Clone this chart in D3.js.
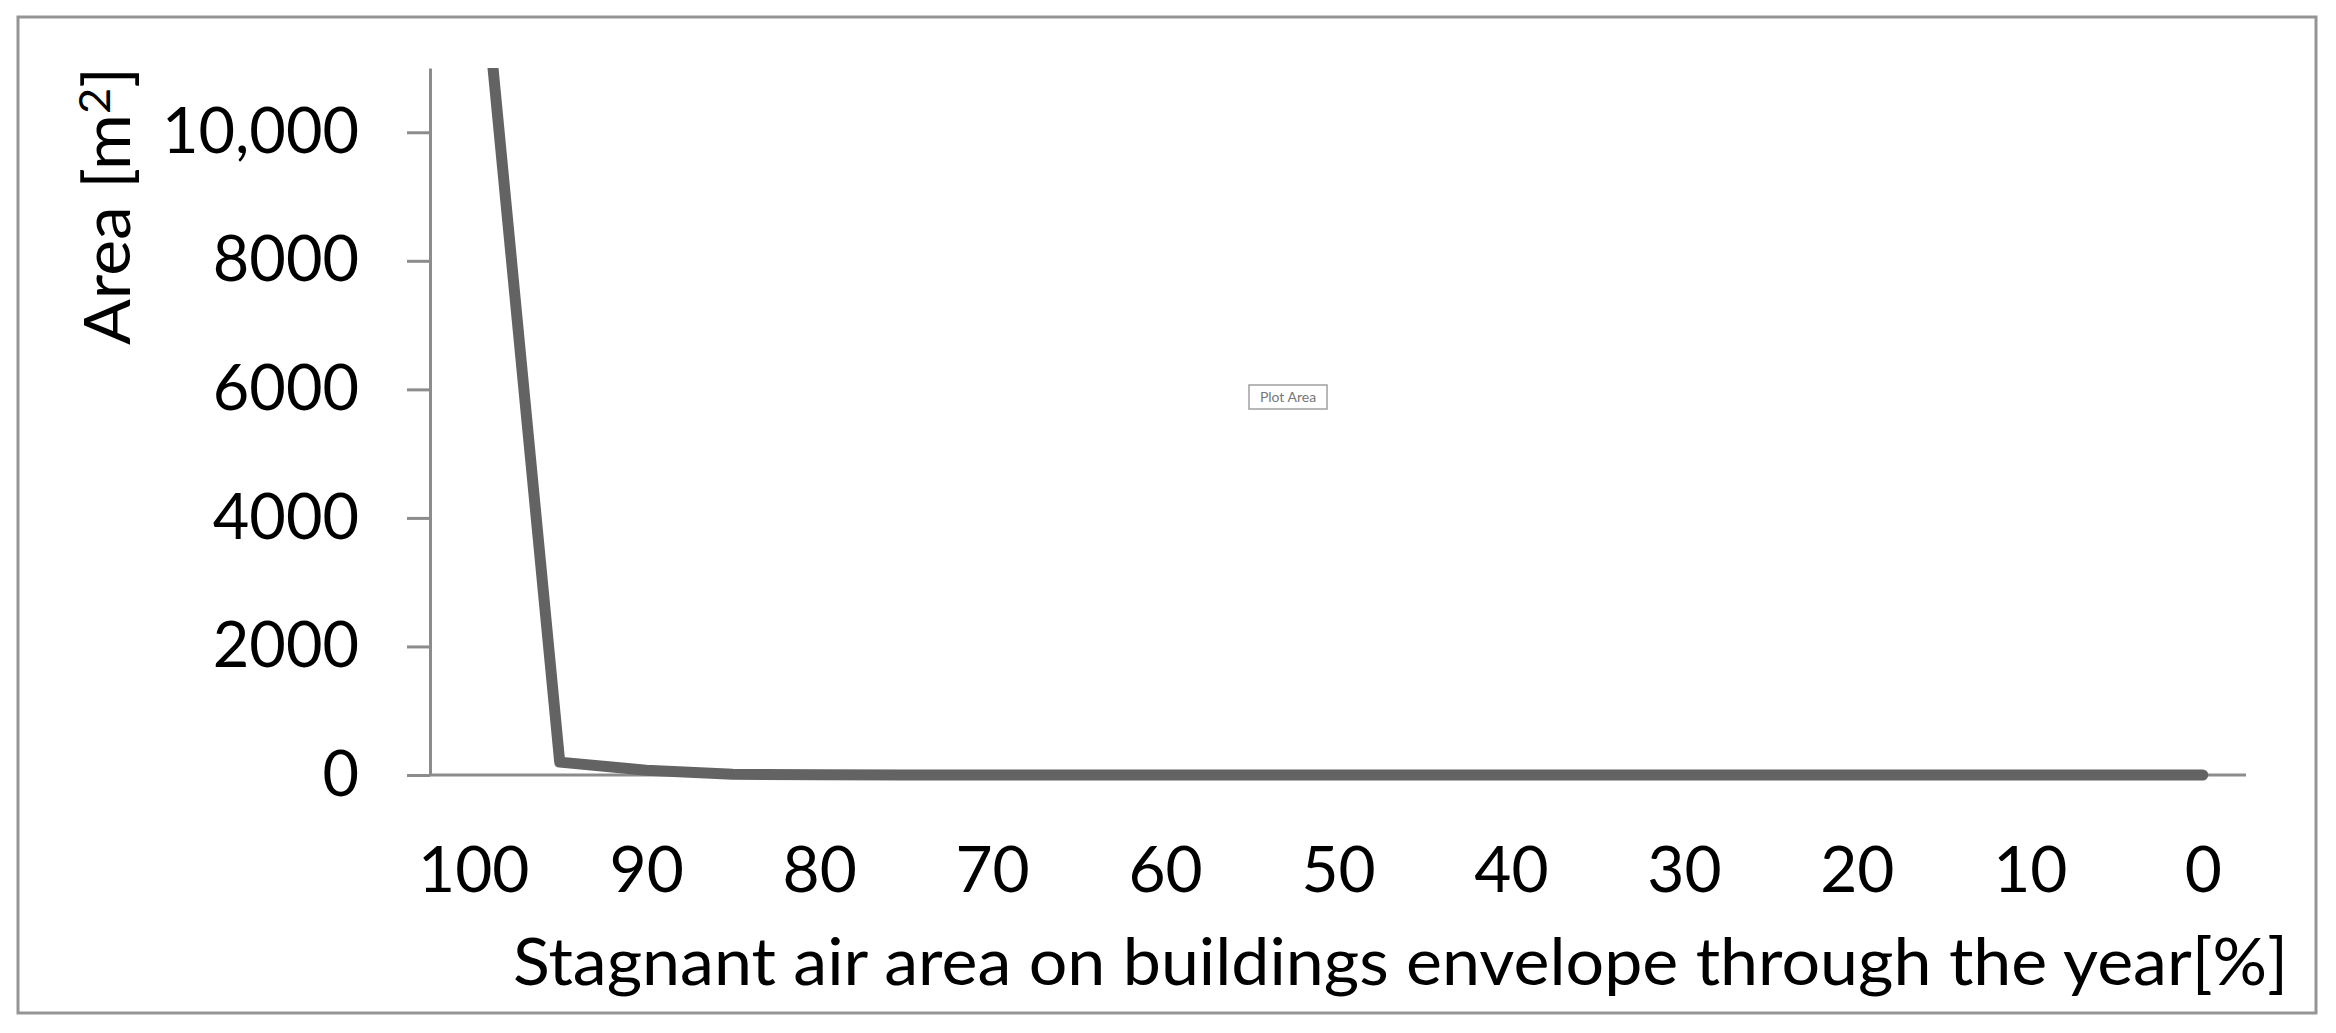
<!DOCTYPE html>
<html>
<head>
<meta charset="utf-8">
<script src="https://cdn.jsdelivr.net/npm/d3@7"></script>
<style>
  body { margin: 0; background: #fff; }
  text { font-family: Lato, "Open Sans", sans-serif; }
</style>
</head>
<body>
<div id="chart"></div>
<script>
var width = 2336;
var height = 1033;

// stagnant air share (%) - category axis, read right to left
var categories = ["100", "95", "90", "85", "80", "75", "70", "65", "60", "55", "50",
                  "45", "40", "35", "30", "25", "20", "15", "10", "5", "0"];
// area in m2 for each category
var areaValues = [14200, 200, 75, 12, 3, 0, 0, 0, 0, 0, 0,
                  0, 0, 0, 0, 0, 0, 0, 0, 0, 0];
var xTickLabels = ["100", "90", "80", "70", "60", "50", "40", "30", "20", "10", "0"];
var yTicks = [0, 2000, 4000, 6000, 8000, 10000];
var yMax = 11000;

var plot = { left: 430, right: 2246, top: 68, bottom: 775 };

var svg = d3.select("#chart")
  .append("svg")
  .attr("width", width)
  .attr("height", height);

// outer chart border
svg.append("rect")
  .attr("x", 18)
  .attr("y", 17)
  .attr("width", 2298)
  .attr("height", 996)
  .attr("fill", "#fff")
  .attr("stroke", "#959595")
  .attr("stroke-width", 3);

var x = d3.scalePoint()
  .domain(categories)
  .range([plot.left, plot.right])
  .padding(0.5);

var y = d3.scaleLinear()
  .domain([0, yMax])
  .range([plot.bottom, plot.top]);

var fmt = function(d) { return d >= 10000 ? d3.format(",")(d) : d3.format("d")(d); };

// y axis
var yAxis = svg.append("g")
  .attr("transform", "translate(" + plot.left + ",0)")
  .call(d3.axisLeft(y).tickValues(yTicks).tickFormat(fmt).tickSize(23).tickSizeOuter(0).tickPadding(48));
yAxis.select(".domain").attr("stroke", "#8c8c8c").attr("stroke-width", 3);
yAxis.selectAll(".tick line").attr("stroke", "#8c8c8c").attr("stroke-width", 3);
yAxis.selectAll("text")
  .attr("fill", "#000")
  .style("font-size", "63px");

// x axis
var xAxis = svg.append("g")
  .attr("transform", "translate(0," + plot.bottom + ")")
  .call(d3.axisBottom(x).tickValues(xTickLabels).tickSize(0).tickSizeOuter(0).tickPadding(72));
xAxis.select(".domain").remove();
xAxis.append("line")
  .attr("x1", plot.left)
  .attr("x2", plot.right)
  .attr("stroke", "#8c8c8c")
  .attr("stroke-width", 3);
xAxis.selectAll("text")
  .attr("fill", "#000")
  .style("font-size", "64px");

// clip the line at the top of the plot area
svg.append("clipPath")
  .attr("id", "plotClip")
  .append("rect")
  .attr("x", plot.left - 20)
  .attr("y", plot.top)
  .attr("width", plot.right - plot.left + 40)
  .attr("height", plot.bottom - plot.top + 20);

var line = d3.line()
  .x(function(d, i) { return x(categories[i]); })
  .y(function(d) { return y(d); });

svg.append("path")
  .datum(areaValues)
  .attr("clip-path", "url(#plotClip)")
  .attr("d", line)
  .attr("fill", "none")
  .attr("stroke", "#636363")
  .attr("stroke-width", 11)
  .attr("stroke-linejoin", "round")
  .attr("stroke-linecap", "round");

// axis titles
svg.append("text")
  .attr("x", 513)
  .attr("y", 985)
  .attr("textLength", 1775)
  .attr("lengthAdjust", "spacingAndGlyphs")
  .style("font-size", "65px")
  .attr("fill", "#000")
  .text("Stagnant air area on buildings envelope through the year[%]");

var yTitle = svg.append("text")
  .attr("transform", "translate(130,206) rotate(-90)")
  .attr("text-anchor", "middle")
  .attr("textLength", 278)
  .attr("lengthAdjust", "spacingAndGlyphs")
  .style("font-size", "63px")
  .attr("fill", "#000");
yTitle.append("tspan").text("Area [m");
yTitle.append("tspan").attr("dy", -20).style("font-size", "42px").text("2");
yTitle.append("tspan").attr("dy", 20).text("]");

// leftover "Plot Area" hover label
svg.append("rect")
  .attr("x", 1249)
  .attr("y", 385)
  .attr("width", 78)
  .attr("height", 24)
  .attr("fill", "#fff")
  .attr("stroke", "#a0a0a0")
  .attr("stroke-width", 1.5);
svg.append("text")
  .attr("x", 1288)
  .attr("y", 402)
  .attr("text-anchor", "middle")
  .style("font-size", "14px")
  .attr("fill", "#777")
  .text("Plot Area");
</script>
</body>
</html>
